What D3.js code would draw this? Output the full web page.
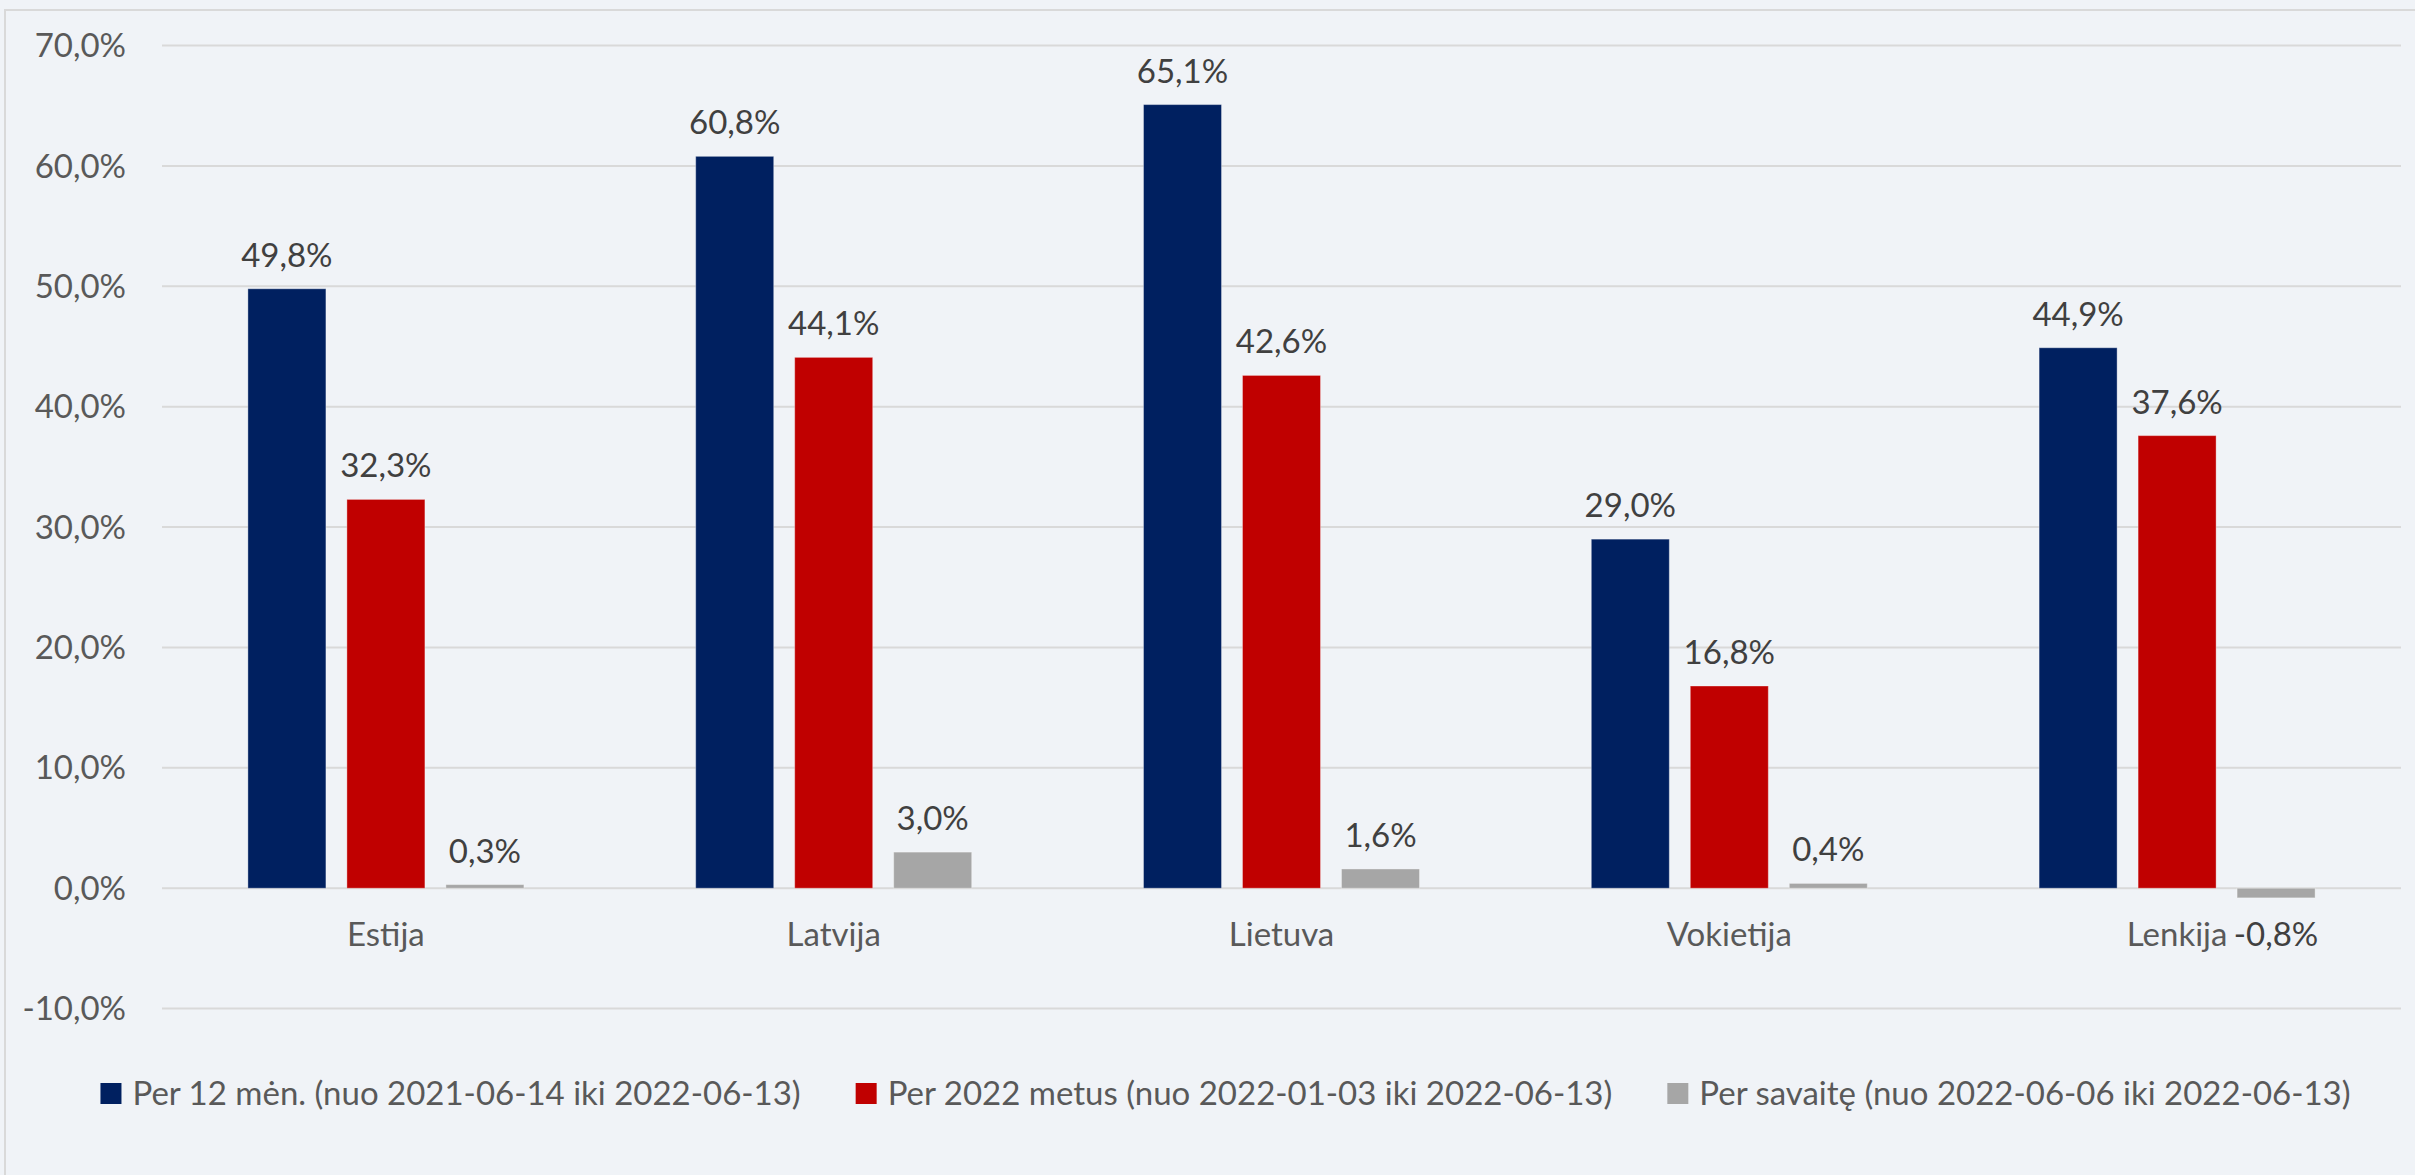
<!DOCTYPE html>
<html>
<head>
<meta charset="utf-8">
<script src="https://cdn.jsdelivr.net/npm/d3@7"></script>
<style>
  html, body { margin: 0; padding: 0; background: #F0F3F7; }
  svg { display: block; font-family: Lato, "Open Sans", sans-serif; }
</style>
</head>
<body>
<div id="chart"></div>
<script>
// chart data
const countries = ['Estija', 'Latvija', 'Lietuva', 'Vokietija', 'Lenkija']
const seriesNames = [
  'Per 12 mėn. (nuo 2021-06-14 iki 2022-06-13)',
  'Per 2022 metus (nuo 2022-01-03 iki 2022-06-13)',
  'Per savaitę (nuo 2022-06-06 iki 2022-06-13)'
]
const per12men = [49.8, 60.8, 65.1, 29.0, 44.9]
const per2022 = [32.3, 44.1, 42.6, 16.8, 37.6]
const perSavaite = [0.3, 3.0, 1.6, 0.4, -0.8]
const yTicks = [-10, 0, 10, 20, 30, 40, 50, 60, 70]

const colors = ['#002060', '#C00000', '#A6A6A6']

let width = 2415,
    height = 1175,
    margin = {top: 45.6, left: 162, right: 14, bottom: 166.4}

let svg = d3.select('#chart')
  .append('svg')
  .attr('width', width)
  .attr('height', height)

// background + frame
svg.append('rect')
  .attr('width', width).attr('height', height)
  .attr('fill', '#F0F3F7')
svg.append('rect')
  .attr('x', 5).attr('y', 10)
  .attr('width', width + 20).attr('height', height + 20)
  .attr('fill', 'none')
  .attr('stroke', '#D9D9D9')
  .attr('stroke-width', 2)

// comma decimal, plain hyphen for negatives
let fmt = v => d3.format('.1f')(v).replace('.', ',').replace('\u2212', '-') + '%'

let y = d3.scaleLinear()
  .domain([-10, 70])
  .range([height - margin.bottom, margin.top])

let x = d3.scaleBand()
  .domain(countries)
  .range([margin.left, width - margin.right])
  .paddingInner(0).paddingOuter(0)

let xs = d3.scaleBand()
  .domain(seriesNames)
  .range([-138, 138])
  .paddingInner(0.212)
  .paddingOuter(0)

// gridlines
svg.append('g')
  .selectAll('line')
  .data(yTicks)
  .enter().append('line')
  .attr('x1', margin.left)
  .attr('x2', width - margin.right)
  .attr('y1', d => y(d))
  .attr('y2', d => y(d))
  .attr('stroke', '#D9D9D9')
  .attr('stroke-width', 2)

// y labels
svg.append('g')
  .selectAll('text')
  .data(yTicks)
  .enter().append('text')
  .attr('x', 126)
  .attr('y', d => y(d))
  .attr('dy', '0.35em')
  .attr('text-anchor', 'end')
  .attr('font-size', 33)
  .attr('fill', '#595959')
  .text(d => fmt(d))

let table = []
let allSeries = [per12men, per2022, perSavaite]
countries.forEach((c, i) => {
  allSeries.forEach((s, j) => {
    table.push({country: c, series: seriesNames[j], idx: j, value: s[i]})
  })
})

// bars
svg.append('g')
  .selectAll('rect')
  .data(table)
  .enter().append('rect')
  .attr('x', d => x(d.country) + x.bandwidth() / 2 + xs(d.series))
  .attr('width', xs.bandwidth())
  .attr('y', d => y(Math.max(0, d.value)))
  .attr('height', d => Math.abs(y(d.value) - y(0)))
  .attr('fill', d => colors[d.idx])
  .attr('stroke', '#ffffff')
  .attr('stroke-opacity', 0.35)
  .attr('stroke-width', 1)

// value labels
svg.append('g')
  .selectAll('text')
  .data(table)
  .enter().append('text')
  .attr('x', d => x(d.country) + x.bandwidth() / 2 + xs(d.series) + xs.bandwidth() / 2)
  .attr('y', d => d.value >= 0 ? y(d.value) - 22 : y(d.value) + 48)
  .attr('text-anchor', 'middle')
  .attr('font-size', 33)
  .attr('fill', '#404040')
  .text(d => fmt(d.value))

// category labels
svg.append('g')
  .selectAll('text')
  .data(countries)
  .enter().append('text')
  .attr('x', d => x(d) + x.bandwidth() / 2)
  .attr('y', 946)
  .attr('text-anchor', 'middle')
  .attr('font-size', 33)
  .attr('fill', '#595959')
  .text(d => d)

// legend
let legend = svg.append('g')
let items = legend.selectAll('.legend')
  .data(seriesNames)
  .enter().append('g')
  .attr('class', 'legend')

items.append('rect')
  .attr('width', 21).attr('height', 21)
  .attr('y', 1083)
  .attr('fill', (d, i) => colors[i])

items.append('text')
  .attr('x', 32)
  .attr('y', 1105)
  .attr('font-size', 33)
  .attr('fill', '#595959')
  .text(d => d)

let widths = []
items.each(function() {
  widths.push(32 + d3.select(this).select('text').node().getComputedTextLength())
})
let gap = 55
let total = d3.sum(widths) + gap * (widths.length - 1)
let startX = 1225.5 - total / 2
items.attr('transform', function(d, i) {
  let off = startX + d3.sum(widths.slice(0, i)) + gap * i
  return 'translate(' + off + ',0)'
})
</script>
</body>
</html>
